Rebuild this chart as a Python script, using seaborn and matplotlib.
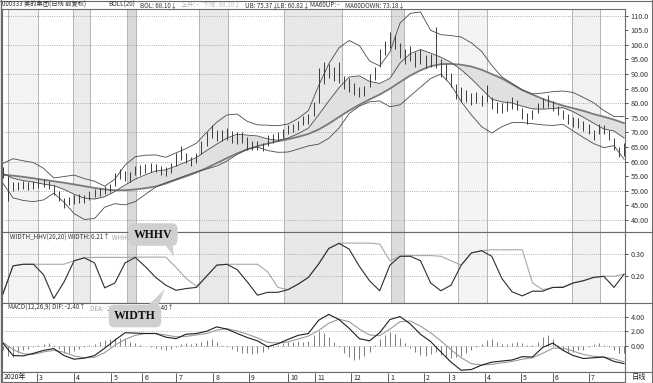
import numpy as np
import pandas as pd
import matplotlib
matplotlib.use("Agg")
import matplotlib.pyplot as plt
import seaborn as sns
from matplotlib.patches import Polygon
from matplotlib.lines import Line2D

sns.set_style("white")
plt.rcParams['font.family'] = ['Noto Sans CJK SC', 'DejaVu Sans']
plt.rcParams['axes.unicode_minus'] = False

# ---------- data (x = trading day index) ----------
bar_step = 3    # one price bar every 3 trading days
line_step = 6   # indicator lines read every 6 trading days

bar_hi = [58, 55, 53, 53, 53.5, 53, 53.5, 54, 54, 53.5,
          52, 50, 47.5, 48, 48.5, 49, 48.5, 50, 50.5, 51,
          51.5, 52.5, 56, 57.5, 56.8, 56.5, 58.5, 58.7, 59.2, 59.5,
          59.3, 58.5, 58, 59.5, 63, 65.5, 63, 61.5, 63, 67,
          70, 72.7, 71, 71, 71.5, 70.5, 70, 70, 68.5, 67,
          67.2, 66.5, 69, 69.5, 70, 71.2, 72.5, 73, 74, 75.5,
          76.2, 80.5, 92, 94, 93.5, 92.5, 94, 89.5, 88.5, 87,
          85.5, 86, 90, 92.5, 98.5, 101.5, 104.5, 103.5, 100.5, 98.5,
          99.5, 97.5, 98.5, 96.5, 97, 106.2, 95, 93.5, 90.5, 86.5,
          85.5, 84.5, 83.5, 84, 83, 86.3, 82, 80.5, 80, 80.8,
          82, 81.2, 78.5, 76.5, 77.8, 80.2, 81.8, 83, 80.8, 79.2,
          77.8, 76.2, 75.2, 74.8, 73.8, 72.8, 70.8, 72.8, 72.5, 70.8,
          68, 65, 66.5]
bar_lo = [54.5, 46.5, 50, 50.2, 50.5, 50.3, 50.8, 51, 51.2, 50.5,
          48.5, 46.5, 44, 45, 45.5, 46, 45.8, 47, 47.8, 48.2,
          48.8, 49.5, 51.5, 54, 53.5, 53, 55.5, 55.5, 56, 56.5,
          56.3, 55.5, 55, 56, 58.5, 60.5, 59.5, 58.5, 59.5, 62.5,
          65.5, 68, 67, 67, 67.5, 66.5, 66, 66.3, 64, 64,
          64, 63.8, 65.5, 66.5, 67, 68, 69.5, 70, 71, 72.5,
          73, 75.5, 80, 86.5, 88.5, 87.5, 87, 85, 84, 83,
          82, 82.5, 85.5, 88, 92.5, 96.5, 99, 98.5, 95.5, 93.5,
          94.5, 92.5, 93.5, 92, 92.5, 92, 89, 88, 85.5, 81.5,
          80.5, 80.5, 79.5, 80, 79, 80.5, 78, 76.8, 76.5, 77.5,
          78, 77.8, 74.5, 73, 74.5, 76.8, 78.5, 78.8, 77.5, 76,
          74.5, 73, 72, 71.5, 70.5, 69.5, 67.5, 69.5, 69.5, 67.5,
          64, 61.5, 62]

boll_ub = [59.4, 61.0, 60.3, 59.7, 57.7, 54.4, 54.9, 55.4, 54.2, 53.3,
           51.6, 54.0, 58.8, 61.7, 62.2, 62.3, 61.5, 63.0, 64.5, 66.3,
           70.0, 73.5, 76.0, 76.3, 73.8, 72.6, 72.5, 72.3, 72.9, 74.8,
           77.5, 86.0, 93.5, 99.0, 101.5, 99.8, 94.5, 92.8, 97.5, 107.5,
           110.8, 111.3, 105.0, 103.5, 103.2, 102.7, 100.7, 97.8, 93.0, 89.0,
           86.8, 84.6, 83.2, 83.5, 84.0, 84.2, 83.7, 82.0, 80.2, 77.5,
           75.5, 75.4]
boll_mid = [56.0, 54.3, 53.5, 53.0, 52.3, 51.8, 50.5, 48.8, 47.5, 47.2,
            48.0, 49.8, 52.0, 54.0, 55.5, 56.8, 57.2, 58.5, 59.9, 61.4,
            63.8, 66.0, 68.1, 69.4, 69.1, 68.8, 67.8, 67.3, 68.1, 69.6,
            71.5, 76.0, 80.8, 85.3, 89.0, 89.4, 87.5, 86.8, 88.5, 93.8,
            97.0, 98.4, 97.2, 95.8, 94.0, 91.5, 88.4, 84.9, 81.4, 80.5,
            80.1, 79.0, 78.1, 78.0, 78.2, 78.5, 77.1, 75.2, 73.2, 71.2,
            70.5, 68.1]
boll_lb = [52.6, 47.6, 46.7, 46.3, 46.9, 49.2, 46.1, 42.2, 40.2, 40.5,
           44.4, 45.6, 45.2, 46.3, 48.8, 51.3, 52.8, 54.0, 55.3, 56.5,
           57.5, 58.5, 60.2, 62.5, 64.3, 65.0, 63.8, 63.2, 63.3, 64.3,
           65.4, 66.0, 68.0, 71.5, 76.5, 79.0, 80.5, 80.8, 78.8, 79.5,
           82.5, 85.5, 88.5, 90.0, 86.3, 80.6, 76.0, 72.0, 69.8, 72.0,
           73.4, 73.4, 73.0, 72.6, 72.4, 72.8, 70.5, 68.3, 66.2, 64.8,
           65.5, 60.8]
ma60 = [55.5, 55.2, 54.8, 54.3, 53.8, 53.3, 52.8, 52.2, 51.6, 51.0,
        50.5, 50.2, 50.2, 50.5, 50.9, 51.5, 52.5, 53.8, 55.0, 56.3,
        57.8, 59.5, 61.2, 62.8, 64.2, 65.3, 66.2, 67.0, 67.7, 68.5,
        69.5, 71.0, 73.0, 75.3, 77.5, 79.5, 81.3, 83.0, 85.0, 87.3,
        89.5, 91.3, 92.7, 93.4, 93.5, 93.2, 92.6, 91.5, 90.0, 88.5,
        86.5, 84.5, 83.0, 81.5, 80.3, 79.2, 78.3, 77.4, 76.3, 75.4,
        74.4, 73.2]

width = [0.12, 0.247, 0.254, 0.254, 0.207, 0.10, 0.174, 0.27, 0.283, 0.26,
         0.148, 0.17, 0.26, 0.285, 0.243, 0.195, 0.16, 0.137, 0.145, 0.15,
         0.2, 0.25, 0.254, 0.23, 0.175, 0.115, 0.128, 0.128, 0.14, 0.165,
         0.195, 0.255, 0.325, 0.348, 0.322, 0.245, 0.18, 0.135, 0.25, 0.29,
         0.29, 0.27, 0.17, 0.135, 0.16, 0.25, 0.305, 0.315, 0.29, 0.19,
         0.13, 0.112, 0.133, 0.133, 0.15, 0.15, 0.17, 0.18, 0.195, 0.2,
         0.15, 0.21]
whhv = [0.12, 0.247, 0.254, 0.254, 0.254, 0.254, 0.254, 0.27, 0.283, 0.285,
        0.285, 0.285, 0.285, 0.286, 0.286, 0.286, 0.286, 0.24, 0.19, 0.155,
        0.2, 0.25, 0.254, 0.254, 0.254, 0.254, 0.22, 0.15, 0.14, 0.165,
        0.195, 0.255, 0.325, 0.348, 0.349, 0.349, 0.349, 0.345, 0.27, 0.29,
        0.293, 0.293, 0.293, 0.29, 0.27, 0.25, 0.305, 0.315, 0.319, 0.319,
        0.319, 0.319, 0.17, 0.14, 0.15, 0.153, 0.17, 0.18, 0.195, 0.2,
        0.2, 0.21]

dif = [0.4, -1.3, -1.35, -1.0, -0.6, -0.35, -1.3, -1.8, -1.65, -1.3,
       -0.3, 0.8, 1.8, 1.75, 1.7, 1.7, 1.2, 1.0, 1.6, 1.7,
       2.0, 2.6, 2.3, 1.7, 1.15, 0.7, -0.1, 0.3, 0.9, 1.45,
       1.7, 3.5, 4.3, 3.6, 2.4, 1.0, 0.7, 1.8, 3.6, 4.0,
       3.0, 1.6, 0.6, -0.8, -2.2, -3.3, -3.2, -2.6, -2.2, -2.05,
       -1.9, -1.45, -1.5, -0.2, 0.4, -0.6, -1.3, -1.7, -1.6, -1.5,
       -2.1, -2.4]
dea = [0.5, -0.5, -1.05, -1.15, -0.8, -0.6, -0.85, -1.35, -1.6, -1.55,
       -0.9, 0.1, 0.9, 1.45, 1.7, 1.7, 1.5, 1.25, 1.3, 1.5,
       1.7, 2.15, 2.35, 2.05, 1.6, 1.1, 0.5, 0.4, 0.55, 0.95,
       1.35, 2.1, 3.1, 3.65, 3.3, 2.3, 1.5, 1.4, 2.3, 3.3,
       3.4, 2.7, 1.8, 0.7, -0.5, -1.6, -2.4, -2.6, -2.5, -2.3,
       -2.1, -1.8, -1.6, -1.0, -0.3, -0.3, -0.7, -1.15, -1.4, -1.5,
       -1.75, -2.15]
macd_bar = [-0.6, -1.4, -1.5, -1.0, -0.6, -0.4, -0.2, 0.1, 0.3, 0.35,
            0.2, -0.4, -0.9, -1.0, -0.7, -0.4, -0.15, 0.1, 0.3, 0.6,
            0.8, 0.9, 1.1, 1.15, 0.9, 0.6, 0.4, 0.15, 0.0, -0.1,
            -0.3, -0.45, -0.5, -0.35, -0.1, 0.3, 0.4, 0.3, 0.45, 0.6,
            0.8, 0.9, 0.6, 0.2, -0.1, -0.4, -0.7, -0.9, -1.0, -1.1,
            -1.0, -0.8, -0.4, -0.1, 0.2, 0.4, 0.5, 0.6, 0.7, 0.6,
            0.7, 1.5, 2.0, 1.8, 1.2, 0.5, -0.2, -0.9, -1.5, -1.9,
            -1.8, -1.4, -0.8, 0.2, 0.9, 1.5, 1.9, 1.6, 1.1, 0.4,
            -0.3, -0.8, -1.2, -1.3, -1.1, -0.8, -1.2, -1.5, -1.6, -1.5,
            -1.3, -0.9, -0.5, -0.1, 0.3, 0.8, 1.0, 0.6, 0.3, 0.3,
            0.4, 0.5, 0.4, 0.2, 0.1, 0.6, 1.2, 1.5, 1.0, 0.1,
            -0.5, -0.8, -0.8, -0.6, -0.5, -0.1, 0.3, 0.4, 0.2, -0.2,
            -0.6, -0.9, -1.0]

month_days = [20, 42, 64, 82, 102, 124, 145, 168, 184, 205, 227, 248, 263, 284, 305, 324, 345]
month_labels = ['3', '4', '5', '6', '7', '8', '9', '10', '11', '12',
                '1', '2', '3', '4', '5', '6', '7']

# highlighted periods: (start day, end day, shade)
periods = [(3, 20.6, '#f3f3f3'), (41.2, 51.2, '#ebebeb'), (72.9, 78.2, '#d9d9d9'),
           (115.3, 132.4, '#e9e9e9'), (165.9, 200, '#e8e8e8'), (228.8, 236.5, '#dcdcdc'),
           (268.2, 285.3, '#f4f4f4'), (335.3, 351.8, '#f1f1f1')]

bars = pd.DataFrame({'day': np.arange(len(bar_hi)) * bar_step, 'hi': bar_hi, 'lo': bar_lo,
                     'macd': macd_bar})
lines = pd.DataFrame({'day': np.arange(len(boll_ub)) * line_step, 'ub': boll_ub, 'mid': boll_mid,
                      'lb': boll_lb, 'ma60': ma60, 'width': width, 'whhv': whhv,
                      'dif': dif, 'dea': dea})

# ---------- layout ----------
W, H = 653, 383
fig = plt.figure(figsize=(W / 100, H / 100), dpi=100)
fig.patch.set_facecolor('white')


def box(x0, y0, x1, y1):
    return [x0 / W, 1 - y1 / H, (x1 - x0) / W, (y1 - y0) / H]


ax_p = fig.add_axes(box(2, 9, 625, 232))
ax_w = fig.add_axes(box(2, 232, 625, 303))
ax_m = fig.add_axes(box(2, 303, 625, 372))
ax_d = fig.add_axes(box(2, 372, 625, 382))

xmax = 366.5
for ax in (ax_p, ax_w, ax_m, ax_d):
    ax.set_xlim(-0.5, xmax)
    ax.set_xticks([])
    ax.set_facecolor('white')
    for s in ax.spines.values():
        s.set_color('#6a6a6a')
        s.set_linewidth(0.8)

grid_kw = dict(color='#9a9a9a', lw=0.6, ls=(0, (1, 1.6)), zorder=1)

# shaded periods on the price and width panels
for ax in (ax_p, ax_w):
    for s, e, c in periods:
        ax.axvspan(s, e, color=c, lw=0, zorder=0)
        for v in (s, e):
            ax.axvline(v, color='#b4b4b4', lw=0.7, zorder=0.5)

# ---------- price panel ----------
ax_p.set_ylim(35.9, 112.3)
for v in range(40, 111, 10):
    ax_p.axhline(v, **grid_kw)
ax_p.fill_between(lines['day'], lines['mid'], lines['ma60'], color='#e0e0e0', lw=0, zorder=2)
sns.lineplot(data=lines, x='day', y='ma60', ax=ax_p, color='#7a7a7a', lw=1.3, zorder=3)
for col in ('ub', 'mid', 'lb'):
    sns.lineplot(data=lines, x='day', y=col, ax=ax_p, color='#4a4a4a', lw=0.6, zorder=3)
ax_p.vlines(bars['day'], bars['lo'], bars['hi'], color='#3a3a3a', lw=0.7, zorder=4)

ax_p.yaxis.tick_right()
pt = np.arange(40, 111, 5)
ax_p.set_yticks(pt)
ax_p.set_yticklabels([f'{v:.1f}' if v >= 100 else f'{v:.2f}' for v in pt])

# ---------- width panel ----------
ax_w.set_ylim(0.080, 0.399)
for v in (0.20, 0.30):
    ax_w.axhline(v, **grid_kw)
sns.lineplot(data=lines, x='day', y='whhv', ax=ax_w, color='#a8a8a8', lw=0.8, zorder=3)
sns.lineplot(data=lines, x='day', y='width', ax=ax_w, color='#2e2e2e', lw=0.8, zorder=4)
ax_w.yaxis.tick_right()
ax_w.set_yticks([0.20, 0.30])
ax_w.set_yticklabels(['0.20', '0.30'])

# ---------- MACD panel ----------
ax_m.set_ylim(-3.54, 5.85)
for v in (0, 2, 4):
    ax_m.axhline(v, **grid_kw)
ax_m.vlines(bars['day'], 0, bars['macd'], color='#7c7c7c', lw=0.7, zorder=2)
sns.lineplot(data=lines, x='day', y='dea', ax=ax_m, color='#9a9a9a', lw=0.8, zorder=3)
sns.lineplot(data=lines, x='day', y='dif', ax=ax_m, color='#1e1e1e', lw=0.8, zorder=4)
ax_m.yaxis.tick_right()
ax_m.set_yticks([0, 2, 4])
ax_m.set_yticklabels(['0.00', '2.00', '4.00'])

for ax in (ax_p, ax_w, ax_m):
    ax.set_xlabel('')
    ax.set_ylabel('')
    ax.tick_params(axis='y', direction='out', length=2.5, width=0.6, pad=1.5,
                   labelsize=5.2, colors='#333333')
    ax.set_xlim(-0.5, xmax)

# ---------- date strip ----------
ax_d.set_ylim(0, 1)
ax_d.set_yticks([])
ax_d.vlines(month_days, 0.05, 0.95, color='#444444', lw=0.6)
for d, lab in zip(month_days, month_labels):
    ax_d.text(d + 1.3, 0.45, lab, fontsize=5, va='center', ha='left', color='#222222')
ax_d.text(0.6, 0.45, '2020年', fontsize=5, va='center', ha='left', color='#222222')

# right-hand frame pieces
for y in (232, 303, 372):
    fig.add_artist(Line2D([625 / W, 1], [1 - y / H, 1 - y / H], color='#6a6a6a', lw=0.8))
fig.add_artist(Line2D([1 - 1 / W, 1 - 1 / W], [0, 1], color='#6a6a6a', lw=0.8))
fig.add_artist(Line2D([0.5 / W, 0.5 / W], [0, 1], color='#6a6a6a', lw=1.0))
fig.add_artist(Line2D([0, 1], [1 - 0.5 / H, 1 - 0.5 / H], color='#6a6a6a', lw=0.8))
fig.add_artist(Line2D([0, 1], [0.5 / H, 0.5 / H], color='#6a6a6a', lw=0.8))
fig.text(639 / W, 1 - 377.5 / H, '日线', fontsize=5.2, ha='center', va='center', color='#222222')


# ---------- panel titles ----------
def ptext(x, y, s, color='#333333', size=4.5):
    fig.text(x / W, 1 - y / H, s, fontsize=size, ha='left', va='center', color=color)


ptext(2, 5, '000333 美的集团(日线 前复权)')
ptext(108, 5, 'BOLL(20)')
ptext(140, 5, 'BOL: 68.10↓')
ptext(181, 5, '上升: -', '#b0b0b0')
ptext(203, 5, '下降: 68.10↓', '#c0c0c0')
ptext(245, 5, 'UB: 75.37↓')
ptext(277, 5, 'LB: 60.82↓')
ptext(310, 5, 'MA60UP: -')
ptext(345, 5, 'MA60DOWN: 73.18↓')

ptext(10, 238, 'WIDTH_HHV(20,20) WIDTH: 0.21↑')
ptext(112, 238, 'WHHV: 0.21', '#a0a0a0')
ptext(8, 308, 'MACD(12,26,9) DIF: -2.40↑')
ptext(90, 308, 'DEA: -2.15↓', '#a0a0a0')
ptext(133, 308, 'MACD: -0.40↑')


# ---------- callouts ----------
def callout(cx, cy, label, tail):
    poly = Polygon([(x / W, 1 - y / H) for x, y in tail], closed=True,
                   transform=fig.transFigure, fc='#cfcfcf', ec='none', zorder=5)
    fig.add_artist(poly)
    fig.text(cx / W, 1 - cy / H, label, fontsize=8.5, fontweight='bold',
             family='Liberation Serif', ha='center', va='center', color='#111111', zorder=6,
             bbox=dict(boxstyle='round,pad=0.45,rounding_size=0.5', fc='#cfcfcf', ec='none'))


callout(153, 234.5, 'WHHV', [(161, 239), (172, 239), (174, 257)])
callout(135, 316, 'WIDTH', [(142, 311), (156, 311), (165, 289)])

fig.savefig('out.png', dpi=100)
